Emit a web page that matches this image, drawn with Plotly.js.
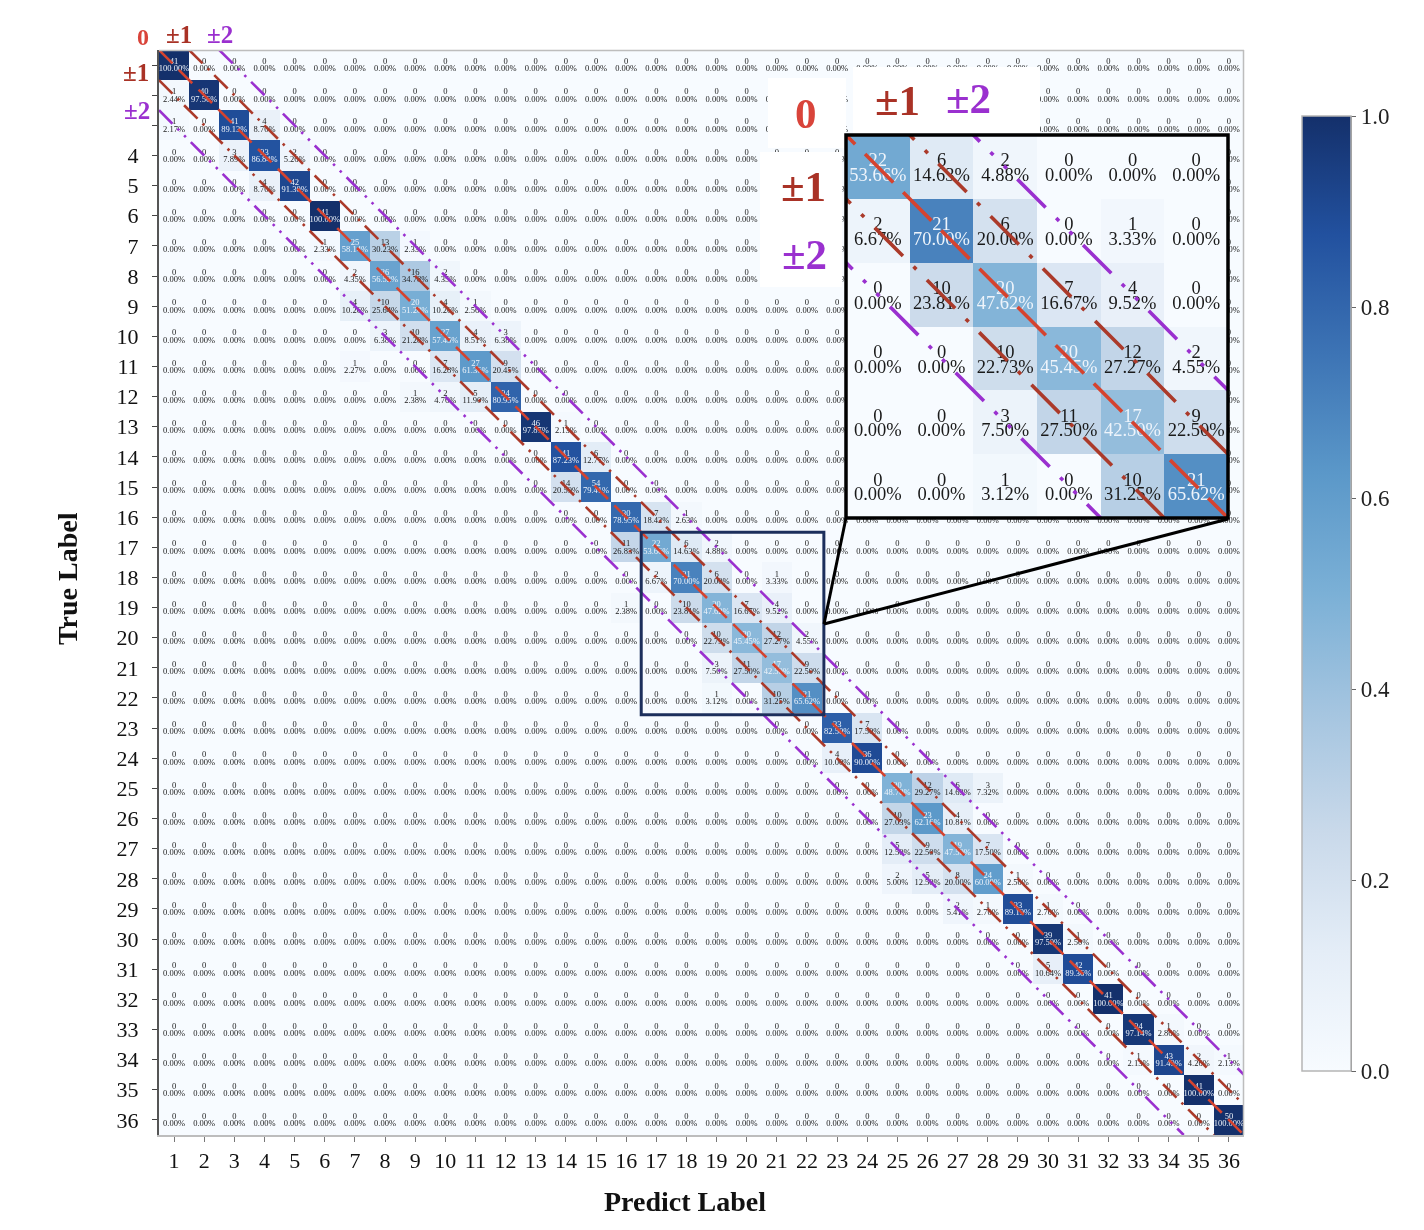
<!DOCTYPE html>
<html><head><meta charset="utf-8">
<script src="https://cdn.plot.ly/plotly-3.0.1.min.js"></script>
<style>html,body{margin:0;padding:0;background:#fff}#c{width:1424px;height:1230px;filter:blur(0.45px)}</style>
</head><body><div id="c"></div>
<script>
// Non-zero cells of the confusion matrix (1-based row / column)
var cellRows = [1,2,2,3,3,3,4,4,4,5,5,6,7,7,7,7,8,8,8,8,9,9,9,9,9,10,10,10,10,10,11,11,11,11,12,12,12,12,13,13,14,14,15,15,16,16,16,17,17,17,17,18,18,18,18,19,19,19,19,19,20,20,20,20,21,21,21,21,22,22,22,23,23,24,24,25,25,25,25,26,26,26,27,27,27,27,28,28,28,28,28,29,29,29,29,30,30,31,31,32,33,33,34,34,34,34,35,36];
var cellCols = [1,1,2,1,3,4,3,4,5,4,5,6,6,7,8,9,7,8,9,10,7,8,9,10,11,8,9,10,11,12,7,10,11,12,9,10,11,12,13,14,14,15,14,15,16,17,18,16,17,18,19,17,18,19,21,16,18,19,20,21,19,20,21,22,19,20,21,22,19,21,22,23,24,23,24,25,26,27,28,25,26,27,25,26,27,28,25,26,27,28,29,27,28,29,30,30,31,30,31,32,33,34,33,34,35,36,35,36];
var cellCounts = [41,1,40,1,41,4,3,33,2,4,42,41,1,25,13,1,2,26,16,2,4,10,20,4,1,3,10,27,4,3,1,7,27,9,1,2,5,34,46,1,41,6,14,54,30,7,1,11,22,6,2,2,21,6,1,1,10,20,7,4,10,20,12,2,3,11,17,9,1,10,21,33,7,4,36,20,12,6,3,10,23,4,5,9,19,7,2,5,8,24,1,2,1,33,1,39,1,5,42,41,34,1,1,43,2,1,41,50];
var cellPcts = [100,2.44,97.56,2.17,89.13,8.7,7.89,86.84,5.26,8.7,91.3,100,2.33,58.14,30.23,2.33,4.35,56.52,34.78,4.35,10.26,25.64,51.28,10.26,2.56,6.38,21.28,57.45,8.51,6.38,2.27,16.28,61.36,20.45,2.38,4.76,11.9,80.95,97.87,2.13,87.23,12.77,20.59,79.41,78.95,18.42,2.63,26.83,53.66,14.63,4.88,6.67,70,20,3.33,2.38,23.81,47.62,16.67,9.52,22.73,45.45,27.27,4.55,7.5,27.5,42.5,22.5,3.12,31.25,65.62,82.5,17.5,10,90,48.78,29.27,14.63,7.32,27.03,62.16,10.81,12.5,22.5,47.5,17.5,5,12.5,20,60,2.5,5.41,2.7,89.19,2.7,97.5,2.5,10.64,89.36,100,97.14,2.86,2.13,91.49,4.26,2.13,100,100];
var labels = [];
for (var i = 1; i <= 36; i++) labels.push(i);
var yTickText = ['', '', ''].concat(labels.slice(3));
var scaleTicks = [0, 0.2, 0.4, 0.6, 0.8, 1];
var zoomRange = [17, 22];
var blues = [[0,'#f7fbff'],[0.125,'#e4edf7'],[0.25,'#c9d9ea'],[0.375,'#a5c5e0'],[0.5,'#7bb0d6'],[0.625,'#5b98c9'],[0.75,'#3d74b5'],[0.875,'#22519f'],[1,'#14306b']];
var diagonals = [
  {d:0,  color:'#d5432f', main:'19px,9px',              inset:'40px,14px',                w:2.6, wi:3.6, back:0.30},
  {d:1,  color:'#ab3a2a', main:'19px,7px,2.5px,7px',     inset:'40px,15px,4px,15px',      w:2.6, wi:3.6, back:0.37},
  {d:-1, color:'#ab3a2a', main:'19px,7px,2.5px,7px',     inset:'40px,15px,4px,15px',      w:2.6, wi:3.6, back:0.37},
  {d:2,  color:'#9a30cf', main:'19px,7px,2.5px,7px,2.5px,7px', inset:'40px,15px,4px,15px,4px,15px', w:2.6, wi:3.6, back:0.34},
  {d:-2, color:'#9a30cf', main:'19px,7px,2.5px,7px,2.5px,7px', inset:'40px,15px,4px,15px,4px,15px', w:2.6, wi:3.6, back:0.34}
];

var cell = {};
cellRows.forEach(function(r, k){ cell[r + '_' + cellCols[k]] = k; });
function fix(p){ return p.toFixed(2) + '%'; }
var z = labels.map(function(r){ return labels.map(function(c){
  var k = cell[r + '_' + c]; return k === undefined ? 0 : cellPcts[k] / 100; }); });

function textTraces(rows, cols, size, xa, ya, o1, o2){
  var xs = [], y1 = [], y2 = [], t1 = [], t2 = [], col = [];
  rows.forEach(function(r){ cols.forEach(function(c){
    var k = cell[r + '_' + c];
    var n = k === undefined ? 0 : cellCounts[k], p = k === undefined ? 0 : cellPcts[k];
    xs.push(c); y1.push(r + o1); y2.push(r + o2);
    t1.push(String(n)); t2.push(fix(p));
    col.push(p >= 40 ? '#eef4fb' : '#1a1a1a');
  }); });
  return [[y1, t1], [y2, t2]].map(function(s){ return {
    type:'scatter', mode:'text', x:xs, y:s[0], text:s[1], xaxis:xa, yaxis:ya,
    textposition:'middle center', hoverinfo:'skip', showlegend:false,
    textfont:{family:'"Liberation Serif", serif', size:size, color:col}
  }; });
}
function diagTraces(lo, hi, xa, ya, dashKey, wKey, useBack){
  return diagonals.map(function(g){
    var b = useBack ? g.back : 0;
    return {type:'scatter', mode:'lines', xaxis:xa, yaxis:ya, hoverinfo:'skip', showlegend:false,
      x:[lo + Math.max(g.d,0) - b, hi + Math.min(g.d,0)],
      y:[lo + Math.max(-g.d,0) - b, hi + Math.min(-g.d,0)],
      line:{color:g.color, width:g[wKey], dash:g[dashKey]}};
  });
}
var zoomLabels = labels.slice(zoomRange[0]-1, zoomRange[1]);
var zInset = zoomLabels.map(function(r){ return zoomLabels.map(function(c){ return z[r-1][c-1]; }); });

var data = [{
  type:'heatmap', x:labels, y:labels, z:z, zmin:0, zmax:1, colorscale:blues, hoverinfo:'skip',
  showscale:true,
  colorbar:{x:1302/1424, xanchor:'left', y:1-1071/1230, yanchor:'bottom', lenmode:'pixels', len:955,
    thicknessmode:'pixels', thickness:49, xpad:0, ypad:0, outlinecolor:'#b5b5b5', outlinewidth:1.5,
    tickvals:scaleTicks, ticktext:scaleTicks.map(function(v){return v.toFixed(1);}),
    ticks:'outside', ticklen:5, tickcolor:'#666', tickfont:{family:'"Liberation Serif", serif', size:23, color:'#222'}}
}]
.concat(textTraces(labels, labels, 8.5, 'x', 'y', -0.1, 0.14))
.concat(diagTraces(0.5, 36.5, 'x', 'y', 'main', 'w', false))
.concat([{type:'heatmap', x:zoomLabels, y:zoomLabels, z:zInset, zmin:0, zmax:1, colorscale:blues, showscale:false, hoverinfo:'skip', xaxis:'x2', yaxis:'y2'}])
.concat(textTraces(zoomLabels, zoomLabels, 18.5, 'x2', 'y2', -0.08, 0.15))
.concat(diagTraces(16.5, 22.5, 'x2', 'y2', 'inset', 'wi', true));

var H = 1230, W = 1424;
function px(v){return v/W;} function py(v){return 1-v/H;}
function patch(x0,y0,x1,y1){ return {type:'rect',xref:'paper',yref:'paper',x0:px(x0),x1:px(x1),y0:py(y0),y1:py(y1),fillcolor:'#fff',line:{width:0},layer:'above'}; }
function seg(x0,y0,x1,y1,c,w){ return {type:'line',xref:'paper',yref:'paper',x0:px(x0),x1:px(x1),y0:py(y0),y1:py(y1),line:{color:c,width:w},layer:'above'}; }
function lab(txt,x,y,size,color,angle){ return {text:txt,xref:'paper',yref:'paper',x:px(x),y:py(y),xanchor:'center',yanchor:'middle',showarrow:false,textangle:angle||0,
  font:{family:'"Liberation Serif", serif',size:size,color:color,weight:'bold'}}; }
var fam = '"Liberation Serif", serif';
var layout = {
  width:W, height:H, autosize:false, margin:{l:0,r:0,t:0,b:0,pad:0}, paper_bgcolor:'#fff', plot_bgcolor:'#fff', showlegend:false,
  xaxis:{domain:[px(159),px(1244)], range:[0.5,36.5], anchor:'y', tickmode:'array', tickvals:labels, ticktext:labels, ticks:'outside', ticklen:5, tickwidth:1, tickcolor:'#777',
    ticklabelstandoff:0, tickfont:{family:fam,size:22,color:'#111'}, showgrid:false, zeroline:false, showline:true, linecolor:'#bdbdbd', linewidth:1.5},
  yaxis:{domain:[py(1135),py(50)], range:[36.5,0.5], anchor:'x', tickmode:'array', tickvals:labels, ticktext:yTickText, ticks:'outside', ticklen:5, tickwidth:1, tickcolor:'#444',
    ticklabelstandoff:9, tickfont:{family:fam,size:22,color:'#111'}, showgrid:false, zeroline:false, showline:true, linecolor:'#555', linewidth:2},
  xaxis2:{domain:[px(846),px(1228)], range:[16.5,22.5], anchor:'y2', showticklabels:false, ticks:'', showgrid:false, zeroline:false},
  yaxis2:{domain:[py(518),py(135)], range:[22.5,16.5], anchor:'x2', showticklabels:false, ticks:'', showgrid:false, zeroline:false},
  shapes:[
    seg(159,50.5,1244,50.5,'#bdbdbd',1.5), seg(1243.5,50,1243.5,1135,'#bdbdbd',1.5),
    patch(768,78,846,148), patch(853,67,1040,133), patch(760,152,842,287),
    {type:'rect',xref:'x',yref:'y',x0:16.5,x1:22.56,y0:16.5,y1:22.56,line:{color:'#1c2f5c',width:3},layer:'above'},
    seg(846,518,824,624,'#000',3), seg(824,624,1228,519,'#000',3),
    {type:'rect',xref:'paper',yref:'paper',x0:px(846),x1:px(1228),y0:py(518),y1:py(135),line:{color:'#000',width:3.5},layer:'above'},
    seg(1351,116,1351,1071,'#444',1.5)
  ],
  annotations:[
    lab('Predict Label',685,1201,28,'#111'), lab('True Label',67,579,28,'#111',-90),
    lab('0',143,37,24,'#d9443a'), lab('±1',179,35,25,'#a93226'), lab('±2',220,35,25,'#9a30cf'),
    lab('±1',136,73,25,'#a93226'), lab('±2',137,111,25,'#9a30cf'),
    lab('0',806,113,43,'#d9443a'), lab('±1',897,100,43,'#a93226'), lab('±2',969,98,43,'#9a30cf'),
    lab('±1',803,186,43,'#a93226'), lab('±2',804,254,43,'#9a30cf')
  ]
};
Plotly.newPlot('c', data, layout, {displayModeBar:false, staticPlot:true});
</script></body></html>
